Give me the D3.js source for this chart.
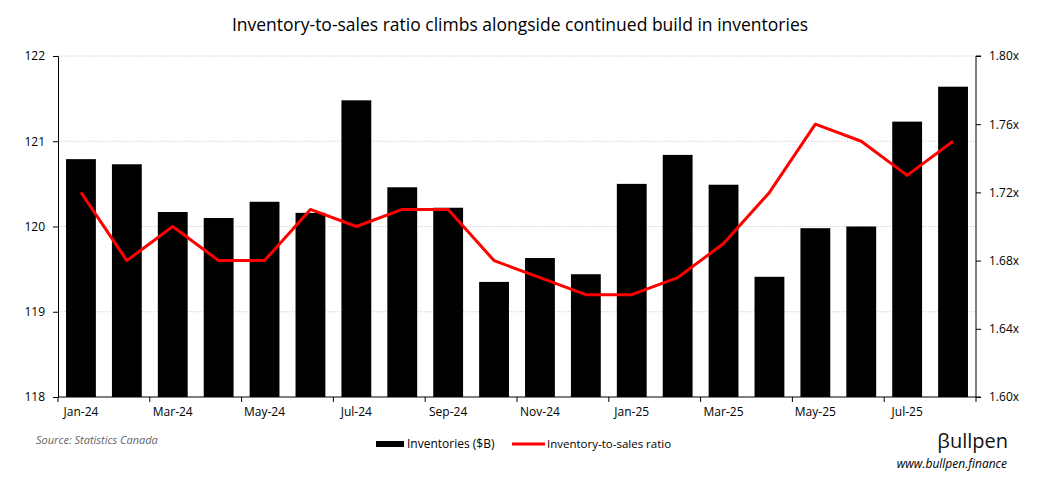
<!DOCTYPE html>
<html>
<head>
<meta charset="utf-8">
<script src="https://cdn.jsdelivr.net/npm/d3@7"></script>
<style>
  body { margin: 0; background: #fff; }
  text { font-family: "Open Sans", "Liberation Sans", sans-serif; }
</style>
</head>
<body>
<svg id="chart" width="1044" height="492"></svg>
<script>
const months = ["Jan-24", "Feb-24", "Mar-24", "Apr-24", "May-24", "Jun-24", "Jul-24", "Aug-24", "Sep-24", "Oct-24",
  "Nov-24", "Dec-24", "Jan-25", "Feb-25", "Mar-25", "Apr-25", "May-25", "Jun-25", "Jul-25", "Aug-25"];
const inventories = [120.79, 120.73, 120.17, 120.10, 120.29, 120.16, 121.48, 120.46, 120.22, 119.35,
  119.63, 119.44, 120.50, 120.84, 120.49, 119.41, 119.98, 120.00, 121.23, 121.64];
const ratio = [1.72, 1.68, 1.70, 1.68, 1.68, 1.71, 1.70, 1.71, 1.71, 1.68,
  1.67, 1.66, 1.66, 1.67, 1.69, 1.72, 1.76, 1.75, 1.73, 1.75];
const leftTicks = [118, 119, 120, 121, 122];
const rightTicks = [1.60, 1.64, 1.68, 1.72, 1.76, 1.80];

const svg = d3.select("#chart");
const margin = { left: 58, right: 976, top: 56, bottom: 397 };

const x = d3.scaleBand()
  .domain(months)
  .range([margin.left, margin.right])
  .paddingInner(0.35)
  .paddingOuter(0.175);

const yLeft = d3.scaleLinear().domain([118, 122]).range([margin.bottom, margin.top]);
const yRight = d3.scaleLinear().domain([1.60, 1.80]).range([margin.bottom, margin.top]);

// title
svg.append("text")
  .attr("x", 520)
  .attr("y", 31)
  .attr("text-anchor", "middle")
  .attr("font-size", "17.5px")
  .attr("fill", "#000")
  .text("Inventory-to-sales ratio climbs alongside continued build in inventories");

// gridlines
svg.append("g")
  .selectAll("line")
  .data(leftTicks.slice(1))
  .join("line")
  .attr("x1", margin.left)
  .attr("x2", margin.right)
  .attr("y1", d => yLeft(d))
  .attr("y2", d => yLeft(d))
  .attr("stroke", "#d0d0d0")
  .attr("stroke-dasharray", "1.5,1.5");

// bars
svg.append("g")
  .selectAll("rect")
  .data(inventories)
  .join("rect")
  .attr("x", (d, i) => x(months[i]))
  .attr("width", x.bandwidth())
  .attr("y", d => yLeft(d))
  .attr("height", d => yLeft(118) - yLeft(d))
  .attr("fill", "#000");

// ratio line
const line = d3.line()
  .x((d, i) => x(months[i]) + x.bandwidth() / 2)
  .y(d => yRight(d));

svg.append("path")
  .datum(ratio)
  .attr("d", line)
  .attr("fill", "none")
  .attr("stroke", "#ff0000")
  .attr("stroke-width", 3)
  .attr("stroke-linejoin", "round");

// left axis
const leftAxis = svg.append("g")
  .attr("transform", `translate(${margin.left},0)`)
  .call(d3.axisLeft(yLeft).tickValues(leftTicks).tickFormat(d3.format("d")).tickSize(5).tickPadding(8));

// right axis
const rightAxis = svg.append("g")
  .attr("transform", `translate(${margin.right},0)`)
  .call(d3.axisRight(yRight).tickValues(rightTicks).tickFormat(d => d.toFixed(2) + "x").tickSize(5).tickPadding(8));

// bottom axis: labels every other month, ticks at pair boundaries
const step = x.step();
const bottom = svg.append("g").attr("class", "bottom");
bottom.append("line")
  .attr("x1", margin.left).attr("x2", margin.right)
  .attr("y1", margin.bottom).attr("y2", margin.bottom)
  .attr("stroke", "#000");
bottom.selectAll("line.tick")
  .data(d3.range(0, months.length + 1, 2))
  .join("line")
  .attr("class", "tick")
  .attr("x1", i => margin.left + i * step)
  .attr("x2", i => margin.left + i * step)
  .attr("y1", margin.bottom)
  .attr("y2", margin.bottom + 5)
  .attr("stroke", "#000");
bottom.selectAll("text")
  .data(months.filter((m, i) => i % 2 === 0))
  .join("text")
  .attr("x", d => x(d) + x.bandwidth() / 2)
  .attr("y", margin.bottom + 19)
  .attr("text-anchor", "middle")
  .attr("font-size", "12px")
  .text(d => d);

[leftAxis, rightAxis].forEach(g => {
  g.select(".domain").attr("stroke", "#000");
  g.selectAll(".tick line").attr("stroke", "#000");
  g.selectAll(".tick text").attr("font-size", "12px").attr("fill", "#000")
    .style("font-family", "'Open Sans', sans-serif");
});
rightAxis.select(".domain").attr("d", `M5,${margin.top}H0V${margin.bottom}H5`);

// source
svg.append("text")
  .attr("x", 36)
  .attr("y", 444)
  .attr("font-size", "11px")
  .attr("font-style", "italic")
  .attr("fill", "#666")
  .text("Source: Statistics Canada");

// legend
const legend = svg.append("g");
legend.append("rect")
  .attr("x", 376).attr("y", 441)
  .attr("width", 28).attr("height", 6)
  .attr("fill", "#000");
legend.append("text")
  .attr("x", 407).attr("y", 448)
  .attr("font-size", "12px")
  .text("Inventories ($B)");
legend.append("line")
  .attr("x1", 512).attr("x2", 545)
  .attr("y1", 444).attr("y2", 444)
  .attr("stroke", "#ff0000").attr("stroke-width", 3);
legend.append("text")
  .attr("x", 547).attr("y", 448)
  .attr("font-size", "11.5px")
  .text("Inventory-to-sales ratio");

// brand
svg.append("text")
  .attr("x", 1008)
  .attr("y", 448)
  .attr("text-anchor", "end")
  .attr("font-size", "20px")
  .attr("fill", "#111")
  .text("βullpen");
svg.append("text")
  .attr("x", 1007)
  .attr("y", 468)
  .attr("text-anchor", "end")
  .attr("font-size", "12px")
  .attr("font-style", "italic")
  .attr("fill", "#000")
  .text("www.bullpen.finance");
</script>
</body>
</html>
